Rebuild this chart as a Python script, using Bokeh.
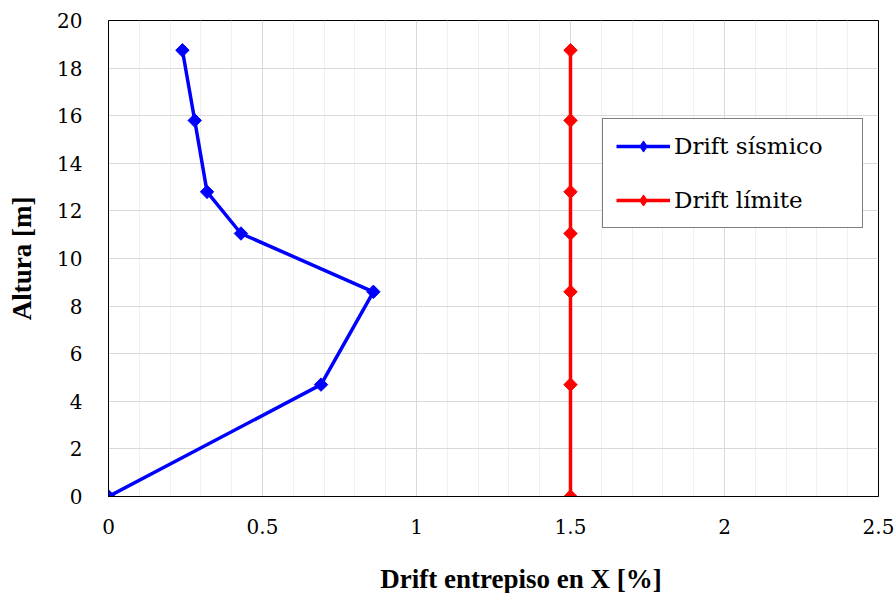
import math

from bokeh.core.properties import value
from bokeh.embed import file_html
from bokeh.layouts import column
from bokeh.resources import INLINE
from bokeh.plotting import figure
from bokeh.models import (ColumnDataSource, FixedTicker, Legend, LegendItem,
                          Range1d)

# Storey heights [m] and inter-storey drift in X [%]
heights = [0.0, 4.7, 8.6, 11.05, 12.8, 15.8, 18.75]
drift_sismico = [0.0, 0.69, 0.86, 0.43, 0.32, 0.28, 0.24]
drift_limite = [1.5, 1.5, 1.5, 1.5, 1.5, 1.5, 1.5]

x_ticks = [0.0, 0.5, 1.0, 1.5, 2.0, 2.5]
x_tick_labels = ["0", "0.5", "1", "1.5", "2", "2.5"]
x_minor = [0.1, 0.2, 0.3, 0.4, 0.6, 0.7, 0.8, 0.9, 1.1, 1.2, 1.3, 1.4,
           1.6, 1.7, 1.8, 1.9, 2.1, 2.2, 2.3, 2.4]
y_ticks = [0, 2, 4, 6, 8, 10, 12, 14, 16, 18, 20]

x_title = "Drift entrepiso en X [%]"
y_title = "Altura [m]"

SERIF_BOLD = "'Liberation Serif', 'Times New Roman', serif"
SERIF = "DejaVu Serif"

p = figure(width=894, height=560, output_backend="svg", toolbar_location=None,
           x_range=Range1d(0, 2.5), y_range=Range1d(0, 20),
           min_border_left=108, min_border_right=16,
           min_border_top=20, min_border_bottom=64)

p.background_fill_color = "white"
p.border_fill_color = "white"
p.outline_line_color = "black"
p.outline_line_width = 1

# axes
p.xaxis.ticker = FixedTicker(ticks=x_ticks, minor_ticks=x_minor)
p.yaxis.ticker = FixedTicker(ticks=y_ticks)
p.xaxis.major_label_overrides = {t: l for t, l in zip(x_ticks, x_tick_labels)}
for ax in (p.xaxis, p.yaxis):
    ax.axis_line_color = "black"
    ax.axis_line_width = 1
    ax.major_tick_line_color = None
    ax.minor_tick_line_color = None
    ax.major_label_text_font = SERIF
    ax.major_label_text_font_size = "20px"
    ax.major_label_text_color = "black"
p.xaxis.major_label_standoff = 16
p.yaxis.major_label_standoff = 20

p.yaxis.axis_label = y_title
p.yaxis.axis_label_text_font = SERIF_BOLD
p.yaxis.axis_label_text_font_size = "27px"
p.yaxis.axis_label_text_font_style = "bold"
p.yaxis.axis_label_text_color = "black"
p.yaxis.axis_label_standoff = 17

# grid
p.xgrid.grid_line_color = "#d9d9d9"
p.xgrid.grid_line_width = 1
p.xgrid.minor_grid_line_color = "#f0f0f0"
p.xgrid.minor_grid_line_width = 1
p.ygrid.grid_line_color = "#d9d9d9"
p.ygrid.grid_line_width = 1

src_s = ColumnDataSource(dict(x=drift_sismico, y=heights))
src_l = ColumnDataSource(dict(x=drift_limite, y=heights))


def series(src, color):
    line = p.line("x", "y", source=src, line_color=color, line_width=3.5)
    # narrow diamond underneath, used as the legend symbol
    key = p.scatter("x", "y", source=src, marker="diamond", size=11,
                    fill_color=color, line_color=color)
    p.scatter("x", "y", source=src, marker="square", angle=math.pi / 4,
              size=9.5, fill_color=color, line_color=color)
    return [line, key]


r_s = series(src_s, "#0000ff")
r_l = series(src_l, "#ff0000")

legend = Legend(items=[LegendItem(label="Drift sísmico", renderers=r_s),
                       LegendItem(label="Drift límite", renderers=r_l)],
                location=(494, 268), orientation="vertical",
                label_text_font=SERIF, label_text_font_size="23px",
                label_text_color="black",
                glyph_width=54, glyph_height=28, label_height=28,
                label_standoff=4, label_width=175,
                spacing=26, padding=13, margin=0,
                border_line_color="black", border_line_width=1.5,
                background_fill_color="white", background_fill_alpha=1.0)
p.add_layout(legend, "center")

# strip under the chart carrying the x axis title
t = figure(width=894, height=33, output_backend="svg", toolbar_location=None,
           x_range=Range1d(0, 894), y_range=Range1d(0, 33),
           min_border=0, outline_line_color=None)
t.axis.visible = False
t.grid.visible = False
t.text(x=[479], y=[15], text=[x_title], text_align="center",
       text_baseline="middle", text_font=value("Liberation Serif"),
       text_font_size="27px", text_font_style="bold", text_color="black")

open("out.html", "w").write(file_html(column(p, t, spacing=0), INLINE))
